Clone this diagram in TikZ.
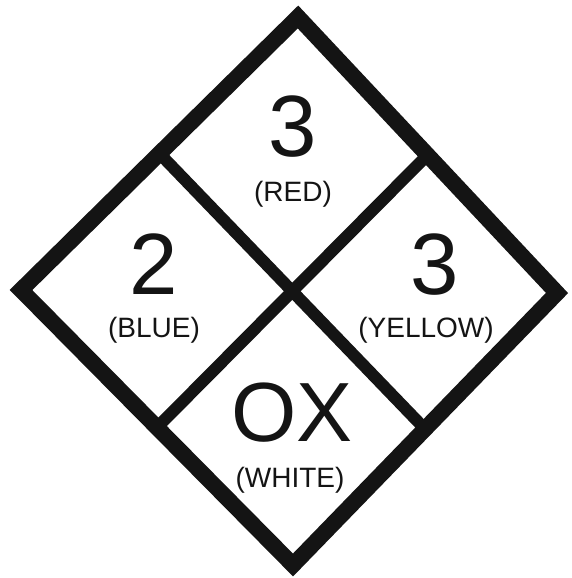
\documentclass[tikz,border=0pt]{standalone}
\usepackage{fontspec}
\setmainfont{Liberation Sans}
\usetikzlibrary{calc}
\begin{document}
\begin{tikzpicture}[x=1pt,y=1pt,
  outerline/.style={line width=16pt, line join=miter, draw=black!92},
  innerline/.style={line width=12pt, draw=black!92},
  bignum/.style={inner sep=0pt, anchor=base, font=\fontsize{87}{87}\selectfont, text=black!92},
  colname/.style={inner sep=0pt, anchor=base, font=\fontsize{28}{28}\selectfont, text=black!92}]
\useasboundingbox (0,0) rectangle (571,578);
\coordinate (T) at (298,561);
\coordinate (L) at (21,288);
\coordinate (R) at (557,285);
\coordinate (B) at (293,13);
\coordinate (TL) at ($(T)!0.5!(L)$);
\coordinate (TR) at ($(T)!0.5!(R)$);
\coordinate (BL) at ($(B)!0.5!(L)$);
\coordinate (BR) at ($(B)!0.5!(R)$);
\draw[innerline] (TL) -- (BR);
\draw[innerline] (TR) -- (BL);
\draw[outerline] (T) -- (R) -- (B) -- (L) -- cycle;
\node[bignum] (n1) at (293,421) {3};
\node[colname] (c1) at (293,376) {(RED)};
\node[bignum] (n2) at (154,283) {2};
\node[colname] (c2) at (154,240) {(BLUE)};
\node[bignum] (n3) at (435,283) {3};
\node[colname] (c3) at (426,240) {(YELLOW)};
\node[bignum, font=\fontsize{84}{84}\selectfont] (n4) at (292,136) {OX};
\node[colname] (c4) at (290,90) {(WHITE)};
\end{tikzpicture}
\end{document}
